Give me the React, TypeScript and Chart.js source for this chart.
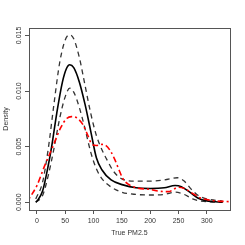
import React, { useEffect, useRef } from 'react';
import { Chart, registerables } from 'chart.js';

Chart.register(...registerables);

const xTicks = [0, 50, 100, 150, 200, 250, 300];
const xTickLabels = ['0', '50', '100', '150', '200', '250', '300'];
const yTicks = [0, 0.005, 0.01, 0.015];
const yTickLabels = ['0.000', '0.005', '0.010', '0.015'];
const xTitle = 'True PM2.5';
const yTitle = 'Density';

// Estimated density (solid black)
const estX = [-2, 0, 10, 20, 26, 35, 45, 52, 58, 65, 75, 85, 95, 105, 115, 131, 152, 175, 200, 225, 244, 255, 270, 285, 300, 320, 328];
const estY = [0, 0.0001, 0.001, 0.0033, 0.005, 0.008, 0.0108, 0.012, 0.01236, 0.0121, 0.0108, 0.0088, 0.0064, 0.004, 0.0029, 0.002, 0.00156, 0.0013, 0.00124, 0.0013, 0.0015, 0.0014, 0.0009, 0.00036, 0.00012, 0.00002, 0];

// Upper band (dashed)
const upX = [-2, 10, 20, 30, 40, 50, 58, 65, 75, 85, 95, 105, 115, 125, 135, 150, 175, 200, 225, 248, 260, 272, 285, 300, 328];
const upY = [0.0003, 0.0018, 0.0048, 0.0088, 0.0125, 0.0146, 0.01506, 0.0147, 0.013, 0.0105, 0.008, 0.006, 0.0047, 0.0037, 0.0028, 0.0021, 0.0019, 0.0019, 0.002, 0.0022, 0.0019, 0.0012, 0.0006, 0.0003, 0.0001];

// Lower band (dashed)
const loX = [-2, 10, 20, 30, 40, 50, 58, 65, 75, 85, 95, 105, 115, 130, 150, 175, 200, 225, 245, 260, 275, 290, 310, 328];
const loY = [0, 0.0006, 0.0024, 0.0048, 0.0075, 0.0095, 0.01026, 0.0099, 0.0085, 0.0066, 0.0045, 0.003, 0.0021, 0.0014, 0.0009, 0.0007, 0.00065, 0.0007, 0.0009, 0.0007, 0.0003, 0.0001, 0.00002, 0];

// Red dash-dot density
const redX = [-14, 0, 13, 28, 42, 52, 61, 70, 81, 90, 96, 105, 115, 122, 130, 137, 145, 152, 162, 175, 200, 215, 232, 250, 262, 275, 288, 310, 341];
const redY = [0.0003, 0.0015, 0.0032, 0.005, 0.0067, 0.0075, 0.0077, 0.0076, 0.007, 0.006, 0.0053, 0.0051, 0.0052, 0.0051, 0.0046, 0.0039, 0.0029, 0.0021, 0.0016, 0.0013, 0.00115, 0.001, 0.00095, 0.00135, 0.0012, 0.0008, 0.0004, 0.00015, 0.00005];

const toPts = (xs: number[], ys: number[]) => xs.map((x, i) => ({ x, y: ys[i] }));

const FONT = '"Liberation Sans", Arial, sans-serif';

const axisPlugin = {
  id: 'rAxes',
  afterDraw(chart: any) {
    const { ctx, chartArea } = chart;
    const xs = chart.scales.x;
    const ys = chart.scales.y;
    ctx.save();
    ctx.strokeStyle = '#555';
    ctx.lineWidth = 1;
    ctx.strokeRect(Math.round(chartArea.left) + 0.5, Math.round(chartArea.top) + 0.5,
      Math.round(chartArea.right - chartArea.left), Math.round(chartArea.bottom - chartArea.top));
    ctx.fillStyle = '#333';
    ctx.font = `7px ${FONT}`;
    ctx.textAlign = 'center';
    ctx.textBaseline = 'middle';
    xTicks.forEach((v, i) => {
      ctx.fillText(xTickLabels[i], xs.getPixelForValue(v), 221);
    });
    yTicks.forEach((v, i) => {
      ctx.save();
      ctx.translate(19, ys.getPixelForValue(v));
      ctx.rotate(-Math.PI / 2);
      ctx.fillText(yTickLabels[i], 0, 0);
      ctx.restore();
    });
    ctx.fillText(xTitle, (chartArea.left + chartArea.right) / 2, 233);
    ctx.save();
    ctx.translate(6, (chartArea.top + chartArea.bottom) / 2);
    ctx.rotate(-Math.PI / 2);
    ctx.fillText(yTitle, 0, 0);
    ctx.restore();
    ctx.restore();
  },
};

export default function App() {
  const ref = useRef<HTMLCanvasElement>(null);
  useEffect(() => {
    if (!ref.current) return;
    const common = { pointRadius: 0, cubicInterpolationMode: 'monotone' as const, fill: false };
    const chart = new Chart(ref.current, {
      type: 'line',
      data: {
        datasets: [
          { ...common, data: toPts(redX, redY), borderColor: '#ff0000', borderWidth: 1.6, borderDash: [2, 3, 6, 3] },
          { ...common, data: toPts(estX, estY), borderColor: '#000', borderWidth: 1.6 },
          { ...common, data: toPts(upX, upY), borderColor: '#333', borderWidth: 1.3, borderDash: [5, 4] },
          { ...common, data: toPts(loX, loY), borderColor: '#333', borderWidth: 1.3, borderDash: [5, 4] },
        ],
      },
      options: {
        responsive: false,
        animation: false,
        events: [],
        layout: { padding: { top: 28, right: 15, left: 0, bottom: 0 } },
        plugins: { legend: { display: false }, tooltip: { enabled: false } },
        scales: {
          x: {
            type: 'linear',
            min: -14,
            max: 341,
            afterBuildTicks: (s: any) => { s.ticks = xTicks.map((v) => ({ value: v })); },
            afterFit: (s: any) => { s.height = 35; },
            grid: { drawOnChartArea: false, drawTicks: true, tickLength: 4, color: '#555' },
            border: { display: false },
            ticks: { display: false },
          },
          y: {
            type: 'linear',
            min: -0.0007,
            max: 0.01567,
            afterBuildTicks: (s: any) => { s.ticks = yTicks.map((v) => ({ value: v })); },
            afterFit: (s: any) => { s.width = 29; },
            grid: { drawOnChartArea: false, drawTicks: true, tickLength: 4, color: '#555' },
            border: { display: false },
            ticks: { display: false },
          },
        },
      },
      plugins: [axisPlugin],
    });
    return () => chart.destroy();
  }, []);
  return (
    <div style={{ position: 'fixed', left: 0, top: 0, width: 245, height: 245, background: '#fff' }}>
      <canvas ref={ref} width={245} height={245} style={{ width: 245, height: 245, display: 'block' }} />
    </div>
  );
}
